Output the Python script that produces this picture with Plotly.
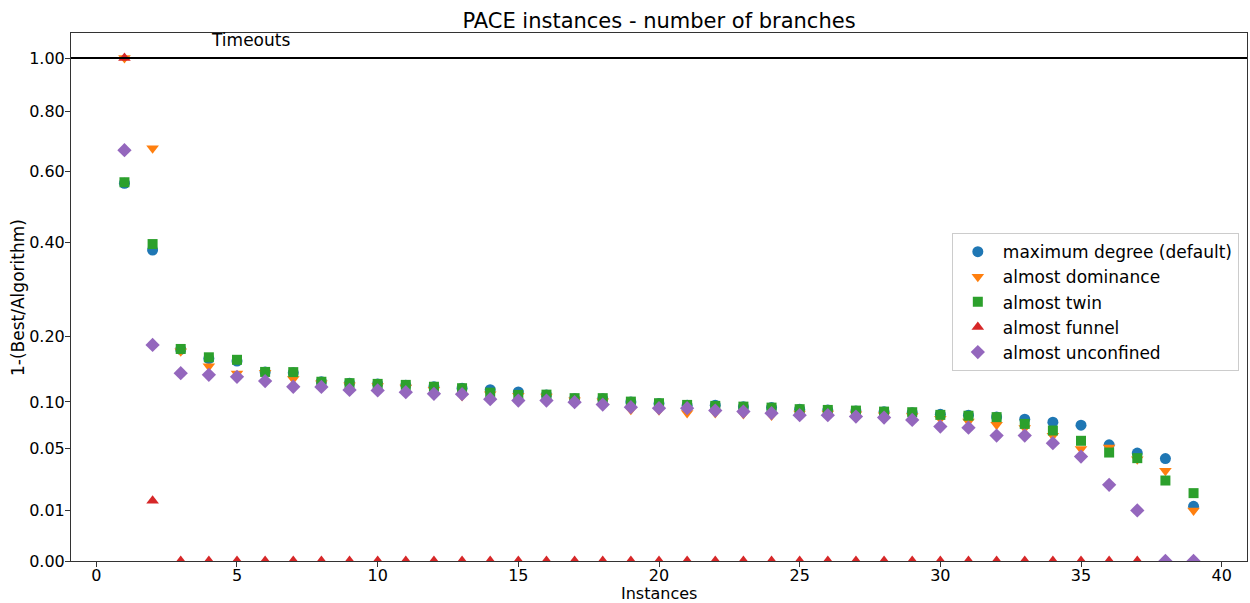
import numpy as np
import plotly.graph_objects as go

instances = list(range(1, 40))

max_degree = [0.564, 0.382, 0.177, 0.162, 0.158, 0.141, 0.140, 0.127, 0.125, 0.124,
              0.122, 0.120, 0.118, 0.116, 0.113, 0.109, 0.104, 0.104, 0.100, 0.098,
              0.096, 0.096, 0.094, 0.093, 0.091, 0.090, 0.089, 0.088, 0.087, 0.085,
              0.084, 0.082, 0.0795, 0.0762, 0.0729, 0.0533, 0.046, 0.0415, 0.0118]
dominance = [1.0, 0.6735, 0.174, 0.150, 0.139, 0.140, 0.131, 0.125, 0.122, 0.121,
             0.119, 0.116, 0.1077, 0.110, 0.108, 0.107, 0.102, 0.101, 0.0903, 0.0897,
             0.0867, 0.0867, 0.0855, 0.0838, 0.086, 0.086, 0.085, 0.084, 0.083, 0.080,
             0.0768, 0.0733, 0.070, 0.0619, 0.0495, 0.051, 0.041, 0.0322, 0.0101]
twin = [0.567, 0.397, 0.1777, 0.164, 0.160, 0.1413, 0.141, 0.127, 0.125, 0.124,
        0.1226, 0.120, 0.118, 0.112, 0.109, 0.1094, 0.1048, 0.1048, 0.1004, 0.0984,
        0.0963, 0.0951, 0.0942, 0.093, 0.0911, 0.0902, 0.0894, 0.0882, 0.0875, 0.0844,
        0.0834, 0.0818, 0.0743, 0.0673, 0.0571, 0.0465, 0.0418, 0.0256, 0.0182]
funnel = [1.0, 0.0143] + [0.0] * 37
unconfined = [0.667, 0.1845, 0.1394, 0.137, 0.134, 0.128, 0.120, 0.1198, 0.1157, 0.115,
              0.1126, 0.1104, 0.110, 0.1035, 0.1017, 0.1017, 0.0997, 0.0967, 0.0935, 0.0923,
              0.0923, 0.0894, 0.0882, 0.0864, 0.0841, 0.0841, 0.0824, 0.0813, 0.0787, 0.0714,
              0.0703, 0.0622, 0.0622, 0.0549, 0.0431, 0.02295, 0.0101, 0.0, 0.0]

ytick_values = [0.0, 0.01, 0.05, 0.10, 0.20, 0.40, 0.60, 0.80, 1.00]
ytick_labels = ["0.00", "0.01", "0.05", "0.10", "0.20", "0.40", "0.60", "0.80", "1.00"]
xtick_values = [0, 5, 10, 15, 20, 25, 30, 35, 40]

series = [
    ("maximum degree (default)", max_degree, "#1f77b4", "circle", 11),
    ("almost dominance", dominance, "#ff7f0e", "triangle-down", 11),
    ("almost twin", twin, "#2ca02c", "square", 10),
    ("almost funnel", funnel, "#d62728", "triangle-up", 11),
    ("almost unconfined", unconfined, "#9467bd", "diamond", 11),
]

FONT = "DejaVu Sans"
fig = go.Figure()
for i, (name, vals, color, sym, size) in enumerate(series):
    fig.add_trace(go.Scatter(
        x=instances, y=np.sqrt(np.array(vals)), mode="markers", name=name,
        legendgroup=f"g{i}",
        marker=dict(color=color, symbol=sym, size=size, line=dict(width=0)),
    ))

fig.add_shape(type="line", xref="paper", x0=0, x1=1, yref="y", y0=1.0, y1=1.0,
              line=dict(color="black", width=2))
fig.add_annotation(x=4, y=1.0, xref="x", yref="y", text="Timeouts", showarrow=False,
                   xanchor="left", yanchor="bottom", yshift=6,
                   font=dict(family=FONT, size=17, color="black"))
# axis titles
fig.add_annotation(x=0.5, y=-0.0616, xref="paper", yref="paper", text="Instances",
                   showarrow=False, xanchor="center", yanchor="middle", borderpad=0,
                   font=dict(family=FONT, size=16, color="black"))
fig.add_annotation(x=-0.0451, y=0.5, xref="paper", yref="paper", text="1-(Best/Algorithm)",
                   showarrow=False, xanchor="center", yanchor="middle", textangle=-90,
                   font=dict(family=FONT, size=17, color="black"))

axis_common = dict(showgrid=False, zeroline=False, showline=True, linecolor="#333333",
                   linewidth=1, mirror=True, ticks="outside", ticklen=5, tickwidth=1,
                   tickcolor="#333333", automargin=False,
                   tickfont=dict(family=FONT, size=16, color="black"))

fig.update_layout(
    width=1250, height=603,
    margin=dict(l=71, r=3, t=33, b=42),
    paper_bgcolor="white", plot_bgcolor="white",
    title=dict(text="PACE instances - number of branches", x=0.5, xref="paper",
               y=0.966, yanchor="middle",
               font=dict(family=FONT, size=21, color="black")),
    xaxis=dict(range=[-0.9, 40.9], tickvals=xtick_values, ticklabelstandoff=-5, **axis_common),
    yaxis=dict(range=[0, 1.0497], tickvals=list(np.sqrt(ytick_values)), ticktext=ytick_labels,
               ticklabelstandoff=-3, **axis_common),
    legend=dict(x=0.749, y=0.621, xanchor="left", yanchor="top",
                bgcolor="rgba(255,255,255,0.8)", bordercolor="#cccccc", borderwidth=1,
                itemwidth=40,
                font=dict(family=FONT, size=17, color="black"), tracegroupgap=0),
    showlegend=True,
)

fig.write_html("out.html")
